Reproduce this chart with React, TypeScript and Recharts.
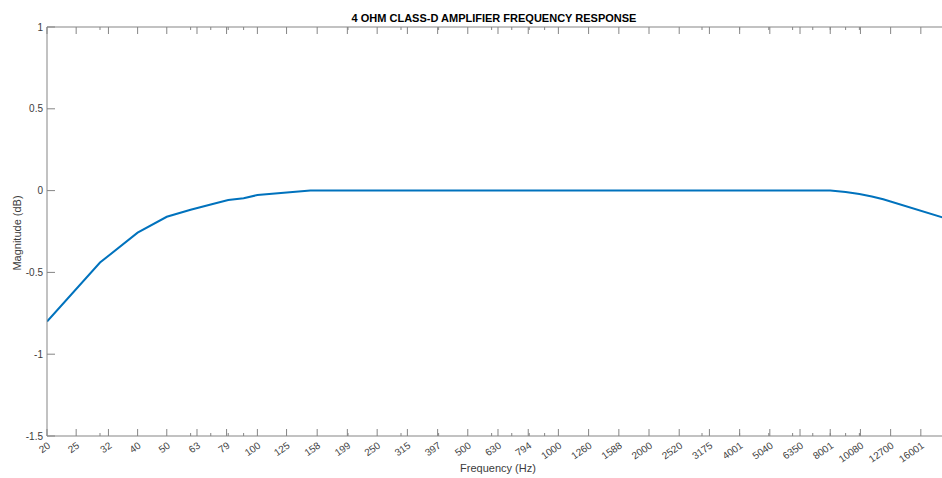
import React from 'react';
import { LineChart, Line, XAxis, YAxis } from 'recharts';

const frequencies = [20, 30, 40, 50, 60, 70, 80, 90, 100, 150, 200, 300, 500, 1000, 2000, 3000, 5000, 8000, 9000, 10000, 11000, 12000, 20000];
const magnitudes = [-0.8, -0.44, -0.257, -0.16, -0.117, -0.085, -0.057, -0.047, -0.027, 0, 0, 0, 0, 0, 0, 0, 0, 0, -0.009, -0.021, -0.036, -0.053, -0.178];

const majorTicks = [20, 25, 32, 40, 50, 63, 79, 100, 125, 158, 199, 250, 315, 397, 500, 630, 794, 1000, 1260, 1588, 2000, 2520, 3175, 4001, 5040, 6350, 8001, 10080, 12700, 16001];
const majorTickLabels = ['20', '25', '32', '40', '50', '63', '79', '100', '125', '158', '199', '250', '315', '397', '500', '630', '794', '1000', '1260', '1588', '2000', '2520', '3175', '4001', '5040', '6350', '8001', '10080', '12700', '16001'];
const minorTicks = [30, 60, 70, 80, 90, 200, 300, 400, 600, 700, 800, 900, 3000, 4000, 5000, 6000, 7000, 8000, 9000, 10000, 20000];
const yTicks = [-1.5, -1, -0.5, 0, 0.5, 1];
const yTickLabels = ['-1.5', '-1', '-0.5', '0', '0.5', '1'];

const titleText = '4 OHM CLASS-D AMPLIFIER FREQUENCY RESPONSE';
const xLabelText = 'Frequency (Hz)';
const yLabelText = 'Magnitude (dB)';

const data = frequencies.map((f, i) => ({ f, m: magnitudes[i] }));
const allXTicks = [...majorTicks, ...minorTicks];

const AXIS = '#858585';
const TEXT = '#3c3c3c';
const FONT = '"Liberation Sans", Arial, sans-serif';

const BottomTick = (props: any) => {
  const { x, y, payload } = props;
  const idx = majorTicks.indexOf(payload.value);
  const major = idx >= 0;
  const len = major ? 7 : 3;
  const tx = x + 4;
  const ty = y + 11;
  return (
    <g>
      <line x1={x} x2={x} y1={y} y2={y - len} stroke={AXIS} strokeWidth={1} />
      {major && (
        <text x={tx} y={ty} textAnchor="end" fontSize={10} fill={TEXT} fontFamily={FONT} transform={`rotate(-35 ${tx} ${ty})`}>
          {majorTickLabels[idx]}
        </text>
      )}
    </g>
  );
};

const TopTick = (props: any) => {
  const { x, y, payload } = props;
  const major = majorTicks.indexOf(payload.value) >= 0;
  const len = major ? 7 : 3;
  return <line x1={x} x2={x} y1={y} y2={y + len} stroke={AXIS} strokeWidth={1} />;
};

const LeftTick = (props: any) => {
  const { x, y, payload } = props;
  const idx = yTicks.indexOf(payload.value);
  return (
    <g>
      <line x1={x} x2={x + 8} y1={y} y2={y} stroke={AXIS} strokeWidth={1} />
      <text x={x - 4} y={y + 3.5} textAnchor="end" fontSize={10} fill={TEXT} fontFamily={FONT}>
        {yTickLabels[idx]}
      </text>
    </g>
  );
};

export default function App() {
  return (
    <div style={{ position: 'absolute', left: 0, top: 0, width: 942, height: 478, overflow: 'hidden', background: '#fff' }}>
      <LineChart width={960} height={478} data={data} margin={{ top: 26, right: 10, bottom: 0, left: 7 }}>
        <XAxis
          xAxisId="top"
          orientation="top"
          dataKey="f"
          type="number"
          scale="log"
          domain={[20, 20000]}
          allowDataOverflow
          ticks={allXTicks}
          interval={0}
          height={1}
          tickSize={0}
          tickMargin={0}
          tickLine={false}
          tick={<TopTick />}
          axisLine={{ stroke: AXIS }}
        />
        <XAxis
          xAxisId="bottom"
          orientation="bottom"
          dataKey="f"
          type="number"
          scale="log"
          domain={[20, 20000]}
          allowDataOverflow
          ticks={allXTicks}
          interval={0}
          height={42}
          tickSize={0}
          tickMargin={0}
          tickLine={false}
          tick={<BottomTick />}
          axisLine={{ stroke: AXIS }}
        />
        <YAxis
          type="number"
          domain={[-1.5, 1]}
          ticks={yTicks}
          interval={0}
          width={40}
          tickSize={0}
          tickMargin={0}
          tickLine={false}
          tick={<LeftTick />}
          axisLine={{ stroke: AXIS }}
          allowDataOverflow
        />
        <Line
          xAxisId="top"
          type="linear"
          dataKey="m"
          stroke="none"
          strokeWidth={0}
          dot={false}
          legendType="none"
          isAnimationActive={false}
        />
        <Line
          xAxisId="bottom"
          type="linear"
          dataKey="m"
          stroke="#0072BD"
          strokeWidth={2}
          dot={false}
          isAnimationActive={false}
        />
      </LineChart>
      <svg width={942} height={478} style={{ position: 'absolute', left: 0, top: 0, pointerEvents: 'none' }}>
        <text x={494} y={22} textAnchor="middle" fontSize={11} fontWeight="bold" fill="#000" fontFamily={FONT}>
          {titleText}
        </text>
        <text x={498} y={472} textAnchor="middle" fontSize={11} fill={TEXT} fontFamily={FONT}>
          {xLabelText}
        </text>
        <text x={21} y={233} textAnchor="middle" fontSize={11} fill={TEXT} fontFamily={FONT} transform="rotate(-90 21 233)">
          {yLabelText}
        </text>
      </svg>
    </div>
  );
}
